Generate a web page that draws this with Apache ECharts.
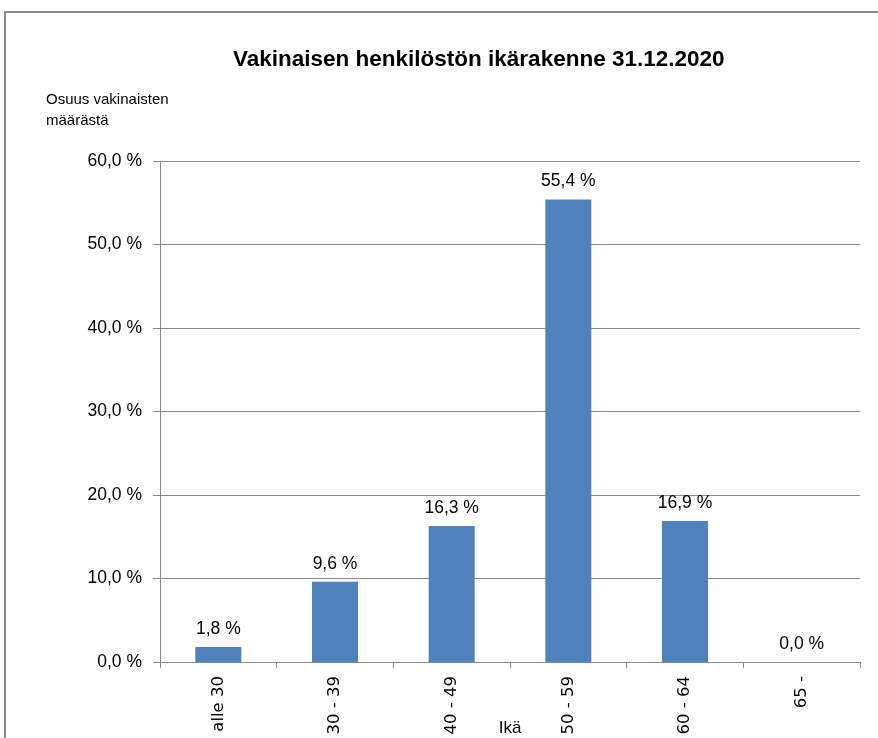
<!DOCTYPE html>
<html><head><meta charset="utf-8">
<script src="https://cdn.jsdelivr.net/npm/echarts@6/dist/echarts.min.js"></script>
<style>html,body{margin:0;padding:0;background:#fff}#c{width:878px;height:738px}</style>
</head><body><div id="c"></div>
<script>
const categories = ['alle 30', '30 - 39', '40 - 49', '50 - 59', '60 - 64', '65 -'];
const shares = [1.8, 9.6, 16.3, 55.4, 16.9, 0.0];
const titleText = 'Vakinaisen henkilöstön ikärakenne 31.12.2020';
const yName = 'Osuus vakinaisten\nmäärästä';
const xName = 'Ikä';
const fmt = v => v.toFixed(1).replace('.', ',') + ' %';

const chart = echarts.init(document.getElementById('c'), null, {renderer: 'canvas'});
chart.setOption({
  animation: false,
  backgroundColor: '#fff',
  graphic: [{
    type: 'rect', shape: {x: 5, y: 12, width: 900, height: 800},
    style: {fill: 'none', stroke: '#8c8c8c', lineWidth: 2}, silent: true
  }],
  title: [{
    text: titleText, left: 228, top: 43,
    textStyle: {fontFamily: 'Liberation Sans', fontSize: 22.5, fontWeight: 'bold', color: '#000'}
  }, {
    text: yName, left: 41, top: 84,
    textStyle: {fontFamily: 'Liberation Sans', fontSize: 15, fontWeight: 'normal', color: '#000', lineHeight: 21}
  }],
  grid: {left: 160, right: 18, top: 161, bottom: 76, containLabel: false, outerBoundsMode: 'none'},
  xAxis: {
    type: 'category', data: categories,
    name: xName, nameLocation: 'middle', nameGap: 58, nameMoveOverlap: false,
    nameTextStyle: {fontFamily: 'Liberation Sans', fontSize: 17, color: '#000'},
    axisLine: {lineStyle: {color: '#888', width: 1}},
    axisTick: {show: true, alignWithLabel: false, length: 6, lineStyle: {color: '#888'}},
    axisLabel: {rotate: 90, margin: 14, fontFamily: 'DejaVu Sans', fontSize: 16.5, color: '#000'}
  },
  yAxis: {
    type: 'value', min: 0, max: 60, interval: 10,
    axisLine: {show: true, lineStyle: {color: '#888', width: 1}},
    axisTick: {show: true, length: 7, lineStyle: {color: '#888'}},
    splitLine: {show: true, lineStyle: {color: '#888', width: 1}},
    axisLabel: {formatter: fmt, margin: 18, fontFamily: 'Liberation Sans', fontSize: 17.5, color: '#000'}
  },
  series: [{
    type: 'bar', data: shares, barWidth: 46,
    itemStyle: {color: '#4f81bd'},
    label: {show: true, position: 'top', distance: 9, formatter: p => fmt(p.value),
      fontFamily: 'Liberation Sans', fontSize: 17.5, color: '#000'}
  }]
});
</script></body></html>
